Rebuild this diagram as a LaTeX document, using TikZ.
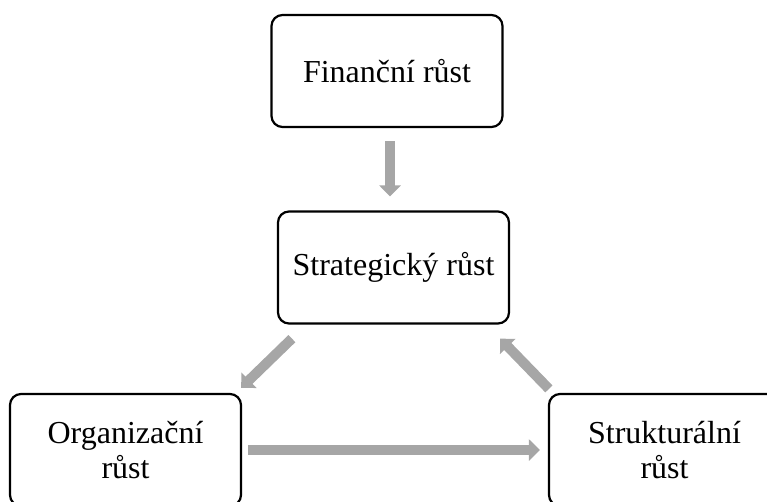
\documentclass[tikz,border=0pt]{standalone}
\usepackage{fontspec}
\setmainfont{Liberation Serif}
\usetikzlibrary{arrows.meta}
\definecolor{arrgray}{HTML}{A6A6A6}
\tikzset{
  box/.style={draw=black, line width=2.2pt, rounded corners=11pt, minimum width=231pt, minimum height=112pt, inner sep=0pt, align=center, font=\fontsize{32}{35}\selectfont},
  arr/.style={draw=arrgray, line width=10pt, -{Triangle[width=21pt,length=11pt]}}
}
\begin{document}
\begin{tikzpicture}[x=1pt,y=-1pt]
\useasboundingbox (0,0) rectangle (767,501);
\clip (0,0) rectangle (767,501);
\node[box] (fin) at (387,71) {Finanční růst};
\node[box] (str) at (393.5,267.5) {Strategický růst};
\node[box] (org) at (125.5,450) {Organizační\\růst};
\node[box] (stk) at (664.5,450) {Strukturální\\růst};
\draw[arr] ([xshift=3pt,yshift=-13pt]fin.south) -- ([xshift=-3.5pt,yshift=14pt]str.north);
\draw[arr] ([xshift=15pt,yshift=-14pt]str.south west) -- ([xshift=-1pt,yshift=5pt]org.north east);
\draw[arr] ([xshift=1pt,yshift=4pt]stk.north west) -- ([xshift=-10pt,yshift=-14pt]str.south east);
\draw[arr] ([xshift=6pt]org.east) -- ([xshift=-8pt]stk.west);
\end{tikzpicture}
\end{document}
